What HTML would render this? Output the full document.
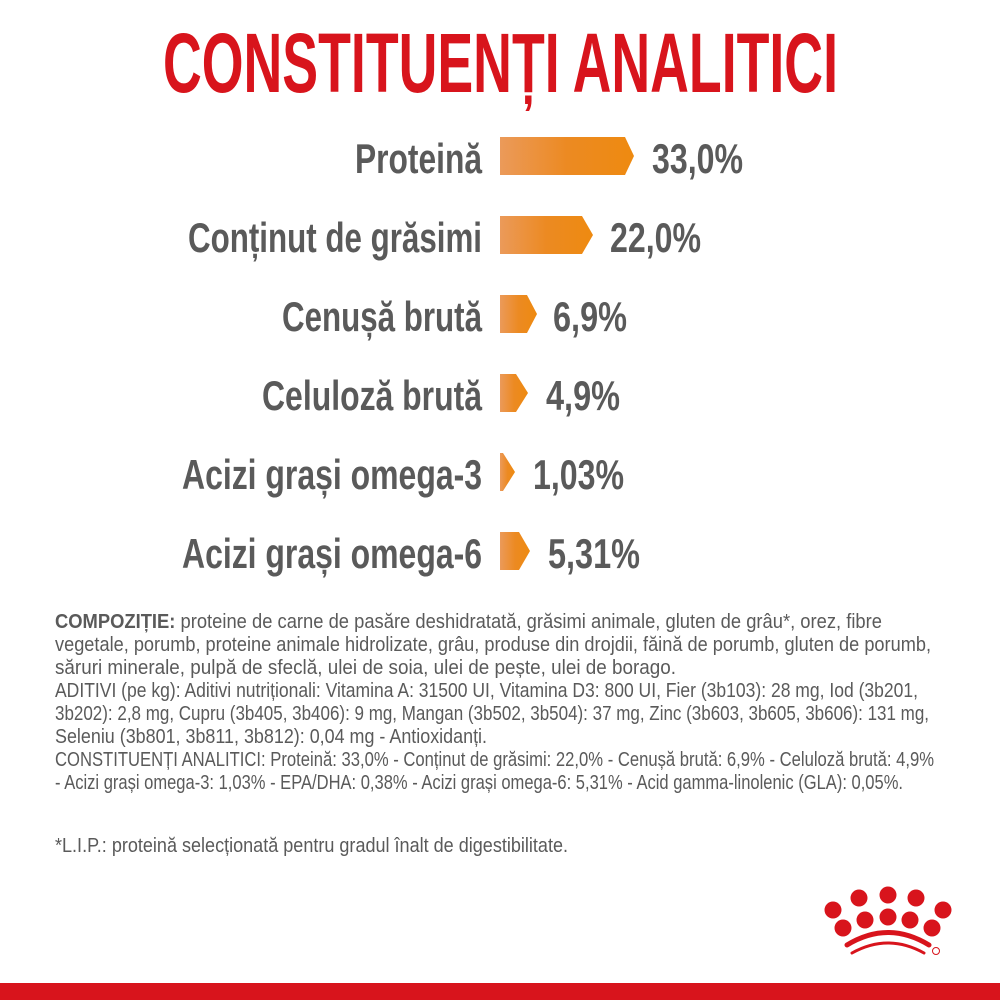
<!DOCTYPE html>
<html><head><meta charset="utf-8"><style>html,body{margin:0;padding:0;background:#fff}svg{display:block}</style></head>
<body>
<svg width="1000" height="1000" viewBox="0 0 1000 1000" xmlns="http://www.w3.org/2000/svg" font-family="Liberation Sans, sans-serif">
<defs>
<linearGradient id="g" x1="0" x2="1" y1="0" y2="0">
<stop offset="0" stop-color="#eb9a5a"/><stop offset="0.5" stop-color="#ec8a22"/><stop offset="1" stop-color="#ee8a10"/>
</linearGradient>
</defs>
<rect width="1000" height="1000" fill="#fff"/>
<text x="163" y="92" font-size="84" font-weight="bold" fill="#d8141c" textLength="675" lengthAdjust="spacingAndGlyphs">CONSTITUENȚI ANALITICI</text>

<g font-size="42" font-weight="bold" fill="#5a5a5a" text-anchor="end">
<text x="482" y="173" textLength="127" lengthAdjust="spacingAndGlyphs">Proteină</text>
<text x="482" y="252" textLength="294" lengthAdjust="spacingAndGlyphs">Conținut de grăsimi</text>
<text x="482" y="331" textLength="200" lengthAdjust="spacingAndGlyphs">Cenușă brută</text>
<text x="482" y="410" textLength="220" lengthAdjust="spacingAndGlyphs">Celuloză brută</text>
<text x="482" y="489" textLength="300" lengthAdjust="spacingAndGlyphs">Acizi grași omega-3</text>
<text x="482" y="568" textLength="300" lengthAdjust="spacingAndGlyphs">Acizi grași omega-6</text>
</g>
<g font-size="42" font-weight="bold" fill="#5a5a5a">
<text x="652" y="173" textLength="91" lengthAdjust="spacingAndGlyphs">33,0%</text>
<text x="610" y="252" textLength="91" lengthAdjust="spacingAndGlyphs">22,0%</text>
<text x="553" y="331" textLength="74" lengthAdjust="spacingAndGlyphs">6,9%</text>
<text x="546" y="410" textLength="74" lengthAdjust="spacingAndGlyphs">4,9%</text>
<text x="533" y="489" textLength="91" lengthAdjust="spacingAndGlyphs">1,03%</text>
<text x="548" y="568" textLength="92" lengthAdjust="spacingAndGlyphs">5,31%</text>
</g>
<g fill="url(#g)">
<polygon points="500,137 625,137 634,156 625,175 500,175"/>
<polygon points="500,216 582,216 593,235 582,254 500,254"/>
<polygon points="500,295 527,295 537,314 527,333 500,333"/>
<polygon points="500,374 516,374 528,393 516,412 500,412"/>
<polygon points="500,453 503,453 515,472 503,491 500,491"/>
<polygon points="500,532 519,532 530,551 519,570 500,570"/>
</g>

<g font-size="20" fill="#5a5a5a">
<text x="55" y="628" textLength="827" lengthAdjust="spacingAndGlyphs"><tspan font-weight="bold">COMPOZIȚIE:</tspan> proteine de carne de pasăre deshidratată, grăsimi animale, gluten de grâu*, orez, fibre</text>
<text x="55" y="651" textLength="876" lengthAdjust="spacingAndGlyphs">vegetale, porumb, proteine animale hidrolizate, grâu, produse din drojdii, făină de porumb, gluten de porumb,</text>
<text x="55" y="674" textLength="621" lengthAdjust="spacingAndGlyphs">săruri minerale, pulpă de sfeclă, ulei de soia, ulei de pește, ulei de borago.</text>
<text x="55" y="697" textLength="863" lengthAdjust="spacingAndGlyphs">ADITIVI (pe kg): Aditivi nutriționali: Vitamina A: 31500 UI, Vitamina D3: 800 UI, Fier (3b103): 28 mg, Iod (3b201,</text>
<text x="55" y="720" textLength="874" lengthAdjust="spacingAndGlyphs">3b202): 2,8 mg, Cupru (3b405, 3b406): 9 mg, Mangan (3b502, 3b504): 37 mg, Zinc (3b603, 3b605, 3b606): 131 mg,</text>
<text x="55" y="743" textLength="432" lengthAdjust="spacingAndGlyphs">Seleniu (3b801, 3b811, 3b812): 0,04 mg - Antioxidanți.</text>
<text x="55" y="766" textLength="879" lengthAdjust="spacingAndGlyphs">CONSTITUENȚI ANALITICI: Proteină: 33,0% - Conținut de grăsimi: 22,0% - Cenușă brută: 6,9% - Celuloză brută: 4,9%</text>
<text x="55" y="789" textLength="848" lengthAdjust="spacingAndGlyphs">- Acizi grași omega-3: 1,03% - EPA/DHA: 0,38% - Acizi grași omega-6: 5,31% - Acid gamma-linolenic (GLA): 0,05%.</text>
<text x="55" y="852" textLength="513" lengthAdjust="spacingAndGlyphs">*L.I.P.: proteină selecționată pentru gradul înalt de digestibilitate.</text>
</g>

<g fill="#d8141c">
<circle cx="833" cy="910" r="8.5"/><circle cx="859" cy="898" r="8.5"/><circle cx="888" cy="895" r="8.5"/><circle cx="916" cy="898" r="8.5"/><circle cx="943" cy="910" r="8.5"/>
<circle cx="843" cy="928" r="8.5"/><circle cx="865" cy="920" r="8.5"/><circle cx="888" cy="917" r="8.5"/><circle cx="910" cy="920" r="8.5"/><circle cx="932" cy="928" r="8.5"/>
<circle cx="936" cy="951" r="3.5" fill="none" stroke="#d8141c" stroke-width="1"/>
</g>
<path d="M847,945 Q888,920 929,945" stroke="#d8141c" stroke-width="5" fill="none" stroke-linecap="round"/>
<path d="M852,953 Q888,933 924,953" stroke="#d8141c" stroke-width="3" fill="none" stroke-linecap="round"/>
<rect x="0" y="983" width="1000" height="17" fill="#d8141c"/>
</svg>
</body></html>
